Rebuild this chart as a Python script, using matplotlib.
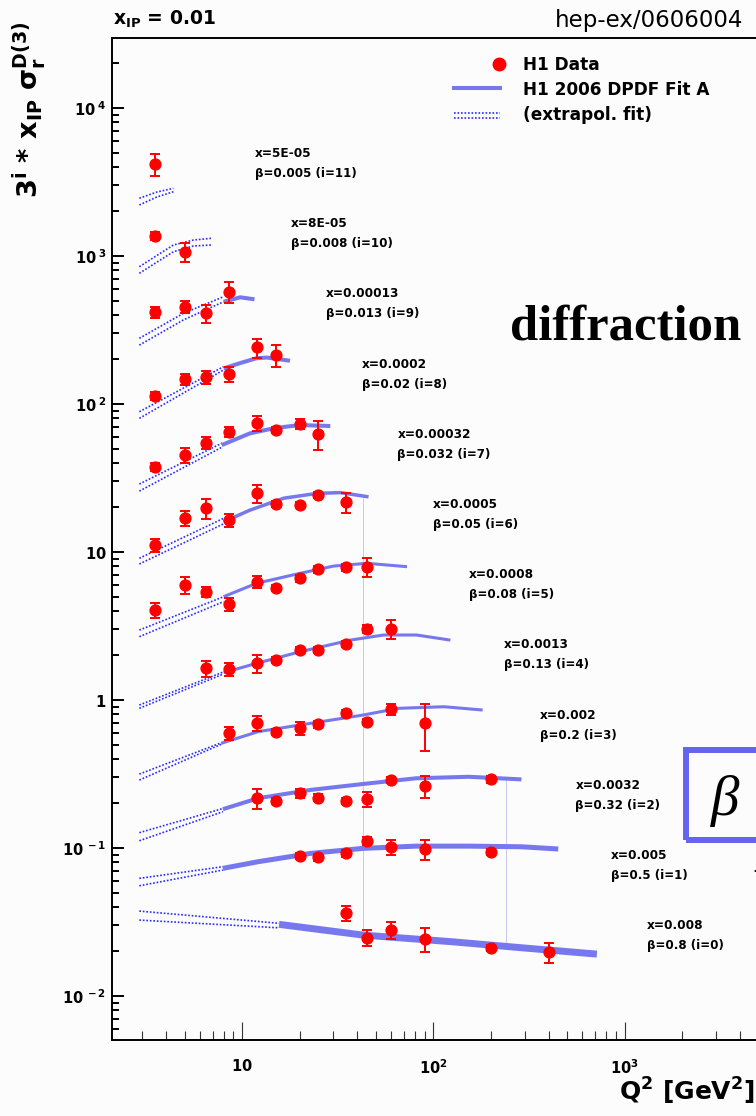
# H1 diffractive reduced cross section, x_IP = 0.01 (hep-ex/0606004)
import matplotlib
matplotlib.use('Agg')
import matplotlib.pyplot as plt
from matplotlib.lines import Line2D
from matplotlib.patches import Rectangle
from matplotlib.ticker import FixedLocator, FixedFormatter, LogLocator, NullFormatter

plt.rcParams['font.family'] = 'DejaVu Sans'
plt.rcParams['mathtext.fontset'] = 'dejavusans'
plt.rcParams['mathtext.default'] = 'bf'

W, H = 756, 1116

# bin labels, index i = 0..11
x_bj = ['0.008', '0.005', '0.0032', '0.002', '0.0013', '0.0008', '0.0005',
        '0.00032', '0.0002', '0.00013', '8E-05', '5E-05']
beta = ['0.8', '0.5', '0.32', '0.2', '0.13', '0.08', '0.05', '0.032', '0.02',
        '0.013', '0.008', '0.005']

# H1 data (plotted values, already multiplied by 3^i)
q2_data = [
    [35, 45, 60, 90, 200, 400],
    [20, 25, 35, 45, 60, 90, 200],
    [12, 15, 20, 25, 35, 45, 60, 90, 200],
    [8.5, 12, 15, 20, 25, 35, 45, 60, 90],
    [6.5, 8.5, 12, 15, 20, 25, 35, 45, 60],
    [3.5, 5, 6.5, 8.5, 12, 15, 20, 25, 35, 45],
    [3.5, 5, 6.5, 8.5, 12, 15, 20, 25, 35],
    [3.5, 5, 6.5, 8.5, 12, 15, 20, 25],
    [3.5, 5, 6.5, 8.5, 12, 15],
    [3.5, 5, 6.5, 8.5],
    [3.5, 5],
    [3.5],
]
val_data = [
    [0.0362, 0.0248, 0.0279, 0.0242, 0.0212, 0.0197],
    [0.0883, 0.0865, 0.092, 0.1115, 0.101, 0.098, 0.0944],
    [0.217, 0.208, 0.234, 0.219, 0.209, 0.214, 0.288, 0.262, 0.291],
    [0.596, 0.696, 0.605, 0.644, 0.685, 0.813, 0.713, 0.865, 0.696],
    [1.64, 1.61, 1.77, 1.86, 2.18, 2.18, 2.38, 3.02, 3.02],
    [4.06, 5.98, 5.39, 4.43, 6.3, 5.69, 6.64, 7.64, 7.88, 7.96],
    [11.15, 16.9, 19.7, 16.4, 24.9, 21.1, 20.8, 24.3, 21.7],
    [37.4, 45.2, 54.8, 65.0, 74.1, 66.7, 73.3, 62.7],
    [113, 147, 151.5, 159, 241, 214],
    [417, 454, 410, 574],
    [1365, 1069],
    [4166],
]
err_data = [
    [0.0042, 0.0031, 0.0037, 0.0044, 0.0010, 0.0030],
    [0.0042, 0.0042, 0.0044, 0.0071, 0.0116, 0.0147, 0.0045],
    [0.033, 0.010, 0.015, 0.011, 0.010, 0.025, 0.014, 0.044, 0.014],
    [0.058, 0.080, 0.029, 0.063, 0.033, 0.039, 0.034, 0.070, 0.245],
    [0.20, 0.16, 0.24, 0.09, 0.10, 0.10, 0.11, 0.19, 0.45],
    [0.45, 0.80, 0.44, 0.43, 0.62, 0.27, 0.32, 0.37, 0.38, 1.19],
    [1.09, 1.94, 2.96, 1.61, 3.31, 1.01, 1.0, 1.17, 3.26],
    [2.4, 5.2, 5.4, 5.3, 8.5, 3.2, 5.9, 14.0],
    [7.2, 11.9, 14.8, 18.3, 36, 36],
    [34, 44, 55, 96],
    [87, 160],
    [700],
]

# H1 2006 DPDF Fit A (solid part)
q2_fit = [
    [15.6, 43, 123.8, 288.5, 716],
    [7.93, 12.1, 22.8, 43, 81.2, 153, 288.7, 449.7],
    [7.93, 12.1, 22.8, 43, 81.2, 153, 288.7],
    [7.76, 12.1, 22.8, 43, 65.7, 113.8, 181],
    [8.0, 11.9, 20.1, 36.8, 54.9, 81.6, 122.7],
    [8.0, 11.9, 20.1, 30.1, 45, 72.8],
    [8.0, 11.0, 16.5, 24.6, 32.6, 45.8],
    [7.82, 11.0, 14.9, 20.1, 28.9],
    [8.0, 9.76, 11.9, 13.5, 17.8],
    [8.0, 9.76, 11.6],
    [],
    [],
]
val_fit = [
    [0.0305, 0.0258, 0.0233, 0.0212, 0.0192],
    [0.0729, 0.0808, 0.092, 0.0995, 0.103, 0.103, 0.102, 0.0985],
    [0.183, 0.217, 0.247, 0.271, 0.296, 0.303, 0.291],
    [0.51, 0.611, 0.696, 0.792, 0.879, 0.901, 0.856],
    [1.53, 1.77, 2.12, 2.54, 2.75, 2.75, 2.54],
    [4.99, 6.15, 7.18, 8.04, 8.39, 7.96],
    [16.0, 19.2, 23.1, 24.9, 25.2, 23.6],
    [52.8, 63.4, 68.9, 72.1, 71.0],
    [174, 189, 204, 206, 196],
    [491, 526, 510],
    [],
    [],
]

# extrapolated fit, drawn as two dotted lines per bin
q2_ext = [
    [2.9, 15.6],
    [2.9, 7.93],
    [2.9, 7.93],
    [2.9, 7.76],
    [2.9, 8.0],
    [2.9, 8.0],
    [2.9, 8.0],
    [2.9, 7.86],
    [2.9, 8.0],
    [2.9, 4.93, 8.0],
    [2.9, 4.37, 5.56, 6.94],
    [2.9, 3.58, 4.37],
]
ext_hi = [
    [0.0375, 0.031],
    [0.0624, 0.0748],
    [0.127, 0.185],
    [0.316, 0.514],
    [0.925, 1.55],
    [2.97, 4.99],
    [9.07, 16.9],
    [28.8, 54.5],
    [88.7, 179],
    [278, 410, 531],
    [847, 1187, 1282, 1318],
    [2455, 2706, 2866],
]
ext_lo = [
    [0.0326, 0.0289],
    [0.0556, 0.071],
    [0.112, 0.176],
    [0.288, 0.502],
    [0.879, 1.50],
    [2.68, 4.62],
    [8.3, 15.5],
    [25.8, 51.2],
    [80, 170],
    [250, 370, 491],
    [764, 1069, 1169, 1187],
    [2212, 2505, 2718],
]

# faint vertical guide lines
guide_q2 = [43, 241]
guide_top = [23.5, 0.292]
guide_bot = [0.0275, 0.0218]

y_ticks = [1e-2, 1e-1, 1, 10, 1e2, 1e3, 1e4]
y_ticklabels = [r'$10^{\;-2}$', r'$10^{\;-1}$', r'$1$', r'$10$',
                r'$10^{\;2}$', r'$10^{\;3}$', r'$10^{\;4}$']
x_ticks = [10, 100, 1000, 10000]
x_ticklabels = [r'$10$', r'$10^{2}$', r'$10^{3}$', '']

fit_color = '#7777ee'
ext_color = '#2a2aff'
fit_lw = [5.0, 3.6, 2.9, 2.2, 2.2, 2.2, 2.5, 2.9, 2.9, 2.9, 2.9, 2.9]
dots = (0, (1, 1.1))


def fx(px):
    return px / W


def fy(py):
    return 1 - py / H


fig = plt.figure(figsize=(W / 100, H / 100), dpi=100, facecolor='#fbfcfb')
# the frame continues past the right edge of the picture
ax = fig.add_axes([fx(112), fy(1040), fx(1000) - fx(112), fy(38) - fy(1040)])
ax.set_facecolor('#fbfcfb')
ax.set_xscale('log')
ax.set_yscale('log')
ax.set_xlim(10 ** 0.3194, 10 ** 4.963)
ax.set_ylim(10 ** -2.297, 10 ** 4.473)

ax.vlines(guide_q2, guide_bot, guide_top, color='#c9c9f0', lw=0.7, zorder=1)

for i in range(12):
    ax.plot(q2_ext[i], ext_hi[i], color=ext_color, lw=1.2, ls=dots, zorder=2)
    ax.plot(q2_ext[i], ext_lo[i], color=ext_color, lw=1.2, ls=dots, zorder=2)
    if q2_fit[i]:
        ax.plot(q2_fit[i], val_fit[i], color=fit_color, lw=fit_lw[i],
                solid_capstyle='butt', zorder=3)
    ax.errorbar(q2_data[i], val_data[i], yerr=err_data[i], fmt='o', color='#ff0000',
                ms=7.8, elinewidth=1.4, capsize=3.9, capthick=1.4, zorder=5)

# axes styling (ROOT look)
for side in ['left', 'bottom', 'top']:
    ax.spines[side].set_linewidth(1.4)
ax.spines['right'].set_visible(False)

ax.yaxis.set_major_locator(FixedLocator(y_ticks))
ax.yaxis.set_major_formatter(FixedFormatter(y_ticklabels))
ax.yaxis.set_minor_locator(LogLocator(base=10, subs=range(2, 10), numticks=20))
ax.yaxis.set_minor_formatter(NullFormatter())
ax.xaxis.set_major_locator(FixedLocator(x_ticks))
ax.xaxis.set_major_formatter(FixedFormatter(x_ticklabels))
ax.xaxis.set_minor_locator(LogLocator(base=10, subs=range(2, 10), numticks=20))
ax.xaxis.set_minor_formatter(NullFormatter())

ax.tick_params(axis='y', which='major', direction='in', length=8.6, width=1.4,
               labelsize=10.5, pad=4)
ax.tick_params(axis='y', which='minor', direction='in', length=4.7, width=1.4)
ax.tick_params(axis='x', which='major', direction='in', length=13, width=0.8,
               color='#333333', labelsize=10.5, pad=13)
ax.tick_params(axis='x', which='minor', direction='in', length=6.5, width=0.8,
               color='#333333')
ax.tick_params(top=False, right=False, which='both')

# bin annotations
for i in range(12):
    k = 11 - i
    px = 255 + 35.6 * k
    py = 153.5 + 70.2 * k
    fig.text(fx(px), fy(py), f'x={x_bj[i]}', ha='left', va='center',
             fontsize=8.7, fontweight='bold')
    fig.text(fx(px), fy(py + 20), f'β={beta[i]} (i={i})', ha='left', va='center',
             fontsize=8.6, fontweight='bold')

# legend
fig.add_artist(Line2D([fx(499)], [fy(64)], marker='o', color='#ff0000', ms=9, ls='none'))
fig.add_artist(Line2D([fx(454), fx(500)], [fy(88.3), fy(88.3)], color=fit_color, lw=2.9))
fig.add_artist(Line2D([fx(454), fx(500)], [fy(113.5), fy(113.5)], color=ext_color,
                      lw=1.2, ls=dots))
fig.add_artist(Line2D([fx(454), fx(500)], [fy(117.5), fy(117.5)], color=ext_color,
                      lw=1.2, ls=dots))
fig.text(fx(523), fy(65), 'H1 Data', ha='left', va='center', fontsize=12.2, fontweight='bold')
fig.text(fx(523), fy(90), 'H1 2006 DPDF Fit A', ha='left', va='center', fontsize=12.2,
         fontweight='bold')
fig.text(fx(523), fy(115), '(extrapol. fit)', ha='left', va='center', fontsize=12.2,
         fontweight='bold')

# titles and axis labels
fig.text(fx(113), fy(25), r'$x_{IP}$ = 0.01', ha='left', va='baseline', fontsize=13.5,
         fontweight='bold')
fig.text(fx(743), fy(27), 'hep-ex/0606004', ha='right', va='baseline', fontsize=16.5)
fig.text(fx(29), fy(22), r'$3^{i}$ * $x_{IP}$ $\sigma_{r}^{D(3)}$', rotation=90,
         ha='center', va='top', fontsize=19.5, fontweight='bold')
fig.text(fx(755), fy(1101), r'$Q^{2}$ [GeV$^{2}$]', ha='right', va='baseline',
         fontsize=18, fontweight='bold')

# slide decorations on the right
fig.text(fx(510), fy(340), 'diffraction', ha='left', va='baseline', fontsize=36.5,
         fontweight='bold', family='Liberation Serif')
fig.add_artist(Rectangle((fx(686), fy(840)), fx(950) - fx(686), fy(750) - fy(840),
                         transform=fig.transFigure, fill=False, ec='#6464f0', lw=4.3))
fig.text(fx(725), fy(801), 'β', ha='center', va='center', fontsize=41, style='italic',
         family='Liberation Serif')
ax.annotate('', xy=(751, H - 871), xytext=(775, H - 871), xycoords='figure pixels',
            textcoords='figure pixels',
            arrowprops=dict(arrowstyle='-|>', color='black', lw=0.8))

fig.savefig('out.png', dpi=100, facecolor=fig.get_facecolor())
